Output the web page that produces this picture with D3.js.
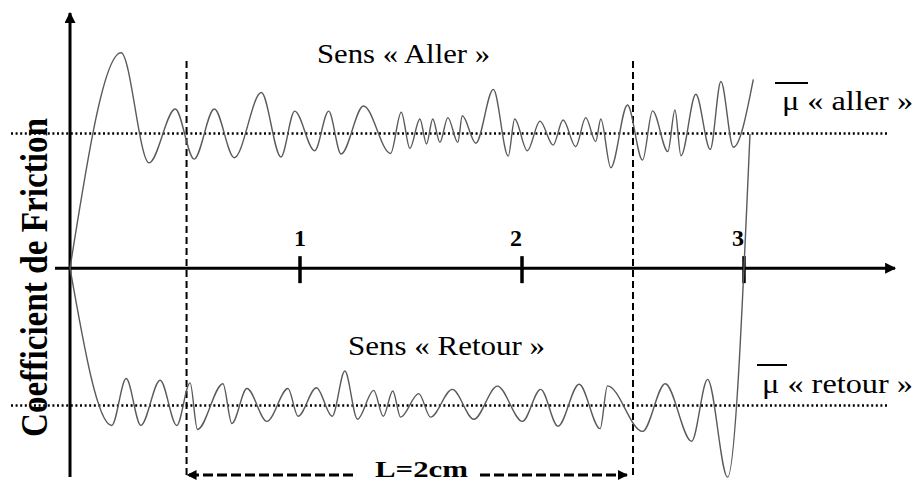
<!DOCTYPE html>
<html>
<head>
<meta charset="utf-8">
<script src="https://cdn.jsdelivr.net/npm/d3@7"></script>
<style>
  body { margin: 0; background: #fff; }
  svg { display: block; }
  text { font-family: "Liberation Serif", "Times New Roman", serif; fill: #000; }
</style>
</head>
<body>
<svg id="chart" width="919" height="483"></svg>
<script>
// position along the track (cm) and friction values
const xTicks = [1, 2, 3];
const meanAller = 0.5;
const meanRetour = -0.51;

const allerX = [-0.036, 0.194, 0.320, 0.438, 0.523, 0.614, 0.704, 0.826, 0.914, 0.976, 1.066, 1.129,
    1.185, 1.286, 1.408, 1.456, 1.495, 1.540, 1.570, 1.598, 1.630, 1.666, 1.711, 1.731, 1.792,
    1.871, 1.938, 1.967, 2.024, 2.081, 2.140, 2.185, 2.242, 2.287, 2.332, 2.355, 2.400, 2.475,
    2.543, 2.588, 2.657, 2.689, 2.716, 2.783, 2.848, 2.896, 2.952, 3.042];
const allerMu = [0, 0.800, 0.391, 0.591, 0.405, 0.591, 0.410, 0.652, 0.413, 0.583, 0.436, 0.583,
    0.424, 0.602, 0.426, 0.579, 0.445, 0.554, 0.461, 0.554, 0.467, 0.559, 0.467, 0.566, 0.464,
    0.664, 0.416, 0.554, 0.436, 0.546, 0.457, 0.550, 0.451, 0.559, 0.470, 0.554, 0.373, 0.606,
    0.401, 0.584, 0.433, 0.587, 0.417, 0.646, 0.441, 0.693, 0.449, 0.701];

const retourX = [-0.036, 0.152, 0.217, 0.283, 0.370, 0.445, 0.505, 0.538, 0.653, 0.693, 0.761, 0.851,
    0.946, 0.991, 1.074, 1.145, 1.202, 1.259, 1.332, 1.375, 1.418, 1.453, 1.535, 1.588, 1.686,
    1.783, 1.889, 2.002, 2.084, 2.162, 2.257, 2.352, 2.385, 2.543, 2.645, 2.764, 2.836, 2.926, 3.027];
const retourMu = [0, -0.584, -0.410, -0.584, -0.416, -0.584, -0.426, -0.599, -0.429, -0.577, -0.447, -0.569,
    -0.447, -0.550, -0.444, -0.550, -0.382, -0.561, -0.454, -0.550, -0.456, -0.553, -0.466, -0.553, -0.450,
    -0.561, -0.438, -0.569, -0.450, -0.587, -0.431, -0.596, -0.437, -0.606, -0.429, -0.643, -0.413, -0.776, 0.498];

const svg = d3.select('#chart');

const x = d3.scaleLinear().domain([0, 3]).range([78, 744]);
const y = d3.scaleLinear().domain([meanRetour, meanAller]).range([405.5, 133.5]);
const x0 = x(allerX[0]);
const y0 = y(0);

let defs = svg.append('defs');
function marker(id, w, h) {
    defs.append('marker')
        .attr('id', id)
        .attr('viewBox', '0 0 10 10')
        .attr('refX', 9).attr('refY', 5)
        .attr('markerUnits', 'userSpaceOnUse')
        .attr('markerWidth', w).attr('markerHeight', h)
        .attr('orient', 'auto-start-reverse')
        .append('path')
        .attr('d', 'M0,0 L10,5 L0,10 Z')
        .attr('fill', '#000');
}
marker('axisArrow', 14, 11);
marker('lenArrow', 12, 10);

// dotted mean lines
[meanAller, meanRetour].forEach(m => {
    svg.append('line')
        .attr('x1', 11).attr('x2', 888)
        .attr('y1', y(m)).attr('y2', y(m))
        .attr('stroke', '#000')
        .attr('stroke-width', 2.5)
        .attr('stroke-dasharray', '2,2.6');
});

// dashed limits of the measured length L
const lenStart = 0.489, lenEnd = 2.5;
[lenStart, lenEnd].forEach(v => {
    svg.append('line')
        .attr('x1', x(v)).attr('x2', x(v))
        .attr('y1', 61).attr('y2', 477)
        .attr('stroke', '#000')
        .attr('stroke-width', 2)
        .attr('stroke-dasharray', '7,4');
});

// axes
svg.append('line')
    .attr('x1', x0).attr('x2', x0)
    .attr('y1', 477).attr('y2', 13)
    .attr('stroke', '#000').attr('stroke-width', 3)
    .attr('marker-end', 'url(#axisArrow)');
svg.append('line')
    .attr('x1', 55).attr('x2', 895)
    .attr('y1', y0).attr('y2', y0)
    .attr('stroke', '#000').attr('stroke-width', 3)
    .attr('marker-end', 'url(#axisArrow)');

svg.selectAll('.tick')
    .data(xTicks)
    .join('line')
    .attr('class', 'tick')
    .attr('x1', d => x(d)).attr('x2', d => x(d))
    .attr('y1', y0 - 12).attr('y2', y0 + 15)
    .attr('stroke', '#000').attr('stroke-width', 3.5);

svg.selectAll('.tickLabel')
    .data(xTicks)
    .join('text')
    .attr('class', 'tickLabel')
    .attr('x', d => x(d) - (d === 1 ? 0 : 6))
    .attr('y', y0 - 22)
    .attr('text-anchor', 'middle')
    .style('font-size', '24px')
    .style('font-weight', 'bold')
    .text(d => d);

// friction signals
const line = d3.line()
    .x(d => x(d[0]))
    .y(d => y(d[1]))
    .curve(d3.curveMonotoneX);

svg.append('path')
    .datum(d3.zip(allerX, allerMu))
    .attr('fill', 'none')
    .attr('stroke', '#5a5a5a')
    .attr('stroke-width', 1.4)
    .attr('d', line);
svg.append('path')
    .datum(d3.zip(retourX, retourMu))
    .attr('fill', 'none')
    .attr('stroke', '#5a5a5a')
    .attr('stroke-width', 1.4)
    .attr('d', line);

// labels
svg.append('text')
    .attr('x', 317).attr('y', 63)
    .attr('textLength', 173).attr('lengthAdjust', 'spacingAndGlyphs')
    .style('font-size', '27px')
    .text('Sens « Aller »');
svg.append('text')
    .attr('x', 348).attr('y', 355)
    .attr('textLength', 197).attr('lengthAdjust', 'spacingAndGlyphs')
    .style('font-size', '27px')
    .text('Sens « Retour »');

svg.append('text')
    .attr('x', 782).attr('y', 110)
    .attr('textLength', 131).attr('lengthAdjust', 'spacingAndGlyphs')
    .style('font-size', '27px')
    .text('μ « aller »');
svg.append('line')
    .attr('x1', 775).attr('x2', 808).attr('y1', 83).attr('y2', 83)
    .attr('stroke', '#000').attr('stroke-width', 2);

svg.append('text')
    .attr('x', 762).attr('y', 393)
    .attr('textLength', 151).attr('lengthAdjust', 'spacingAndGlyphs')
    .style('font-size', '27px')
    .text('μ « retour »');
svg.append('line')
    .attr('x1', 757).attr('x2', 787).attr('y1', 365).attr('y2', 365)
    .attr('stroke', '#000').attr('stroke-width', 2);

svg.append('text')
    .attr('transform', 'translate(47,' + ((118 + 437) / 2) + ') scale(1.15,1) rotate(-90)')
    .attr('text-anchor', 'middle')
    .attr('textLength', 319).attr('lengthAdjust', 'spacingAndGlyphs')
    .style('font-size', '33px')
    .style('font-weight', 'bold')
    .text('Coefficient de Friction');

// L = 2cm dimension arrow
const lenY = 475;
svg.append('line')
    .attr('x1', 353).attr('x2', x(lenStart) + 1)
    .attr('y1', lenY).attr('y2', lenY)
    .attr('stroke', '#000').attr('stroke-width', 3)
    .attr('stroke-dasharray', '10,4')
    .attr('marker-end', 'url(#lenArrow)');
svg.append('line')
    .attr('x1', 480).attr('x2', x(lenEnd) - 6)
    .attr('y1', lenY).attr('y2', lenY)
    .attr('stroke', '#000').attr('stroke-width', 3)
    .attr('stroke-dasharray', '10,4')
    .attr('marker-end', 'url(#lenArrow)');
svg.append('text')
    .attr('x', 375).attr('y', 477)
    .attr('textLength', 93).attr('lengthAdjust', 'spacingAndGlyphs')
    .style('font-size', '24px')
    .style('font-weight', 'bold')
    .text('L=2cm');
</script>
</body>
</html>
